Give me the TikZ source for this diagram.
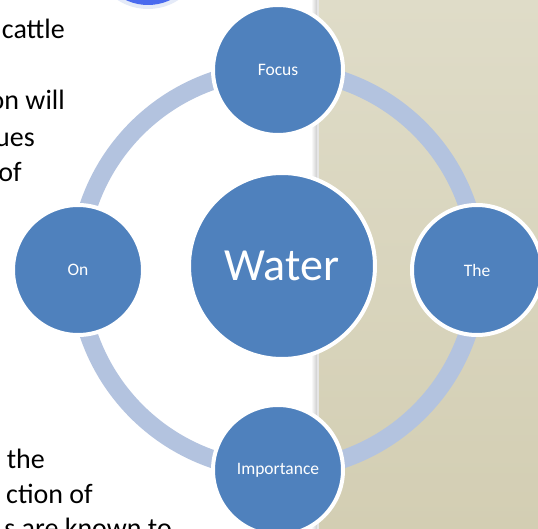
\documentclass[tikz,border=0pt]{standalone}
\usepackage{fontspec}
\setmainfont{Carlito}
\definecolor{bubbleblue}{HTML}{4F81BD}
\definecolor{ringblue}{HTML}{B3C3DF}
\definecolor{paneltop}{HTML}{DFDCC8}
\definecolor{panelbot}{HTML}{D3CEB3}
\definecolor{knobrim}{HTML}{4A6AEE}
\definecolor{knobcore}{HTML}{8EB2F4}
\definecolor{knobglow}{HTML}{E4EAF8}
\tikzset{
  bubble/.style={circle,fill=bubbleblue,draw=white,line width=4pt,minimum size=130pt,inner sep=0pt,
    text=white,font=\fontsize{17.5}{21}\selectfont},
  hub/.style={bubble,minimum size=186pt,font=\fontsize{46}{52}\selectfont},
  ring/.style={draw=ringblue,line width=18pt},
  slidetext/.style={anchor=base east,inner sep=0pt,font=\fontsize{28}{35}\selectfont}
}
\begin{document}
\begin{tikzpicture}[x=1pt,y=-1pt]
      \useasboundingbox (0,0) rectangle (538,529);
      \clip (0,0) rectangle (538,529);
      \fill[white] (0,0) rectangle (538,529);

      % panel on the right
      \fill[top color=paneltop,bottom color=panelbot] (316,0) rectangle (538,529);
      \fill[left color=white,right color=black!20] (311,0) rectangle (317,529);
      \fill[black!10] (317,0) rectangle (319,529);

      % glossy button cut at the top
      \fill[knobglow] (148,-47) circle (56);
      \fill[knobrim] (148,-47) circle (52);
      \fill[knobcore] (148,-49) circle (47);

      % slide text cut at the left
      \node[slidetext] (t1) at (65,39) {cattle};
      \node[slidetext] (t2) at (65,110) {on will};
      \node[slidetext] (t3) at (35,147) {ues};
      \node[slidetext] (t4) at (22,182) {of};
      \node[slidetext] (t5) at (45,468) {the};
      \node[slidetext] (t6) at (93,503) {ction of};
      \node[slidetext] (t7) at (172,537) {s are known to};

      % cycle
      \coordinate (mid) at (278,270);
      \draw[ring] (mid) circle (200);

      \node[hub] (water) at (282,266) {Water};
      \node[bubble] (focus) at (278,70) {Focus};
      \node[bubble] (the) at (477,270) {The};
      \node[bubble] (importance) at (278,470) {Importance};
      \node[bubble] (on) at (78,270) {On};
    \end{tikzpicture}
\end{document}
